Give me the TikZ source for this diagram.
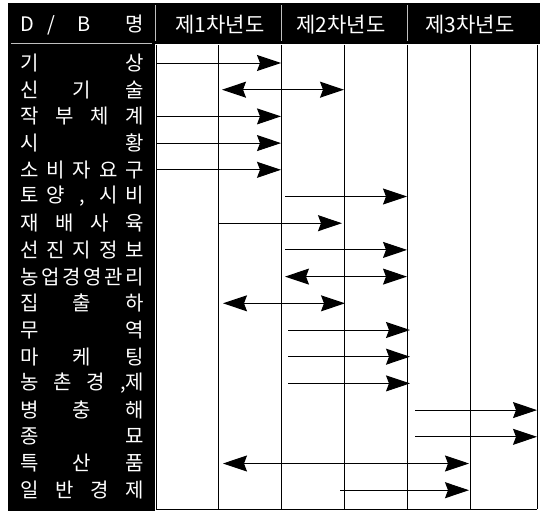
\documentclass[tikz,border=0pt]{standalone}
\usepackage{fontspec}
\setmainfont{Noto Sans CJK KR}
\usetikzlibrary{arrows.meta, positioning}
\setlength{\parindent}{0pt}

\tikzset{
    grid/.style={line width=0.9pt},
    bar/.style={line width=1pt, -{Stealth[length=24pt, width=16pt, inset=3pt]}},
    dbar/.style={line width=1pt, {Stealth[length=24pt, width=16pt, inset=3pt]}-{Stealth[length=24pt, width=16pt, inset=3pt]}},
    lbl/.style={text=white, inner sep=0pt, text width=124pt, font=\fontsize{20}{20}\selectfont},
    hdr/.style={text=white, inner sep=0pt, font=\fontsize{21}{21}\selectfont},
    sep/.style={white!75!black, line width=0.6pt}
}

\begin{document}
\begin{tikzpicture}[x=1pt, y=-1pt]
    \useasboundingbox (0,0) rectangle (545,511);

    % =================================================================
    % 1. 검은 바탕 (머리줄, 왼쪽 D/B 칸)
    % =================================================================
    \fill (8,3) rectangle (540,44);
    \fill (8,3) rectangle (155,511);
    \draw[sep] (11,43) -- (152,43);
    \foreach \x in {155,281,407}
        \draw[sep] (\x,5) -- (\x,41);

    % =================================================================
    % 2. 세로 칸선
    % =================================================================
    \foreach \x [count=\i from 0] in {156,218,281,344,407,470,537} {
        \coordinate (c\i) at (\x,45);
        \coordinate (b\i) at (\x,509);
        \draw[grid] (c\i) -- (b\i);
    }
    \draw[grid] (b0) -- (b6);

    % =================================================================
    % 3. 머리줄 글자
    % =================================================================
    \node[lbl] (h0) at (82,25) {D\hspace{14pt}/\hspace{22pt}B\hfill 명};
    \node[hdr] (h1) at (220,25) {제1차년도};
    \node[hdr] (h2) at (341,25) {제2차년도};
    \node[hdr] (h3) at (470,25) {제3차년도};

    % =================================================================
    % 4. D/B 이름
    % =================================================================
    \foreach \t [count=\i] in {
        {기\hfill 상},
        {신\hfill 기\hfill 술},
        {작\hfill 부\hfill 체\hfill 계},
        {시\hfill 황},
        {소\hfill 비\hfill 자\hfill 요\hfill 구},
        {토\hfill 양\hfill \makebox[1em]{,}\hfill 시\hfill 비},
        {재\hfill 배\hfill 사\hfill 육},
        {선\hfill 진\hfill 지\hfill 정\hfill 보},
        {농\hfill 업\hfill 경\hfill 영\hfill 관\hfill 리},
        {집\hfill 출\hfill 하},
        {무\hfill 역},
        {마\hfill 케\hfill 팅},
        {농\hfill 촌\hfill 경\hfill ,제},
        {병\hfill 충\hfill 해},
        {종\hfill 묘},
        {특\hfill 산\hfill 품},
        {일\hfill 반\hfill 경\hfill 제}}
        \node[lbl] (r\i) at (82,{63+26.7*(\i-1)}) {\t};

    % =================================================================
    % 5. 추진 기간 화살표
    % =================================================================
    \draw[bar] (c0 |- r1) -- (c2 |- r1);
    \draw[dbar] ([xshift=4pt]c1 |- r2) -- (c3 |- r2);
    \draw[bar] (c0 |- r3) -- (c2 |- r3);
    \draw[bar] (c0 |- r4) -- (c2 |- r4);
    \draw[bar] (c0 |- r5) -- (c2 |- r5);
    \draw[bar] ([xshift=4pt]c2 |- r6) -- (c4 |- r6);
    \draw[bar] (c1 |- r7) -- ([xshift=-2pt]c3 |- r7);
    \draw[bar] ([xshift=4pt]c2 |- r8) -- (c4 |- r8);
    \draw[dbar] ([xshift=4pt]c2 |- r9) -- (c4 |- r9);
    \draw[dbar] ([xshift=5pt]c1 |- r10) -- ([xshift=1pt]c3 |- r10);
    \draw[bar] ([xshift=7pt]c2 |- r11) -- ([xshift=3pt]c4 |- r11);
    \draw[bar] ([xshift=7pt]c2 |- r12) -- ([xshift=3pt]c4 |- r12);
    \draw[bar] ([xshift=7pt]c2 |- r13) -- ([xshift=3pt]c4 |- r13);
    \draw[bar] ([xshift=8pt]c4 |- r14) -- (c6 |- r14);
    \draw[bar] ([xshift=8pt]c4 |- r15) -- (c6 |- r15);
    \draw[dbar] ([xshift=5pt]c1 |- r16) -- ([xshift=-1pt]c5 |- r16);
    \draw[bar] ([xshift=-4pt]c3 |- r17) -- ([xshift=-1pt]c5 |- r17);

\end{tikzpicture}
\end{document}
